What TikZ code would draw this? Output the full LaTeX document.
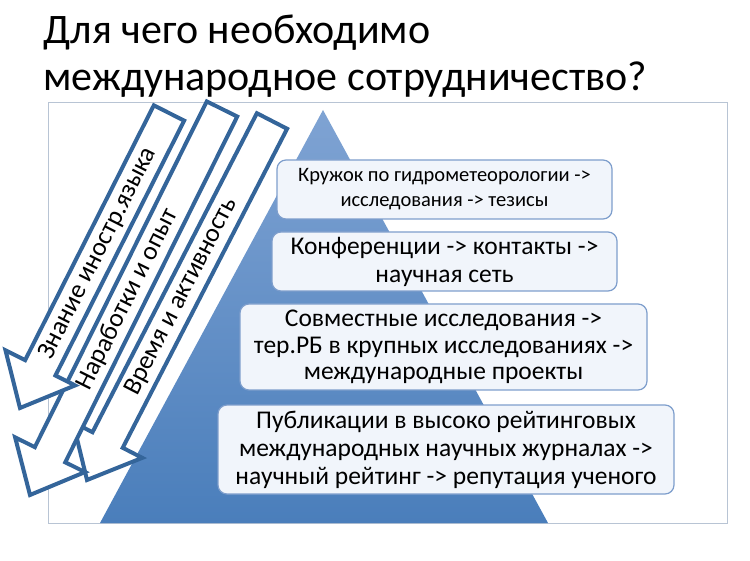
\documentclass[tikz,border=0pt]{standalone}
\usepackage{fontspec}
\setmainfont{Carlito}
\usetikzlibrary{calc}
\definecolor{pyrblue}{HTML}{4A7EBB}
\definecolor{pyrtop}{HTML}{7FA3D3}
\definecolor{boxline}{HTML}{7E9ECC}
\definecolor{boxfill}{HTML}{F1F5FB}
\definecolor{arrline}{HTML}{34659A}
\definecolor{frameline}{HTML}{B8C4D4}
\tikzset{
  step box/.style={draw=boxline, line width=1.2pt, fill=boxfill, rounded corners=9pt,
    align=center, inner sep=0pt, font=\fontsize{25.5}{28}\selectfont},
  arrow outline/.style={draw=arrline, line width=4pt, fill=white, line join=miter},
  arrow label/.style={sloped, font=\fontsize{26}{30}\selectfont}
}
% hollow block arrow from tail centre #1 to tip #2
\newcommand\hollowarrow[3]{%
  \coordinate (N) at ($(#2)!45pt!(#1)$);
  \draw[arrow outline] ($(#1)!17pt!90:(#2)$) -- ($(N)!17pt!-90:(#1)$)
    -- ($(N)!39pt!-90:(#1)$) -- (#2) -- ($(N)!39pt!90:(#1)$)
    -- ($(N)!17pt!90:(#1)$) -- ($(#1)!17pt!-90:(#2)$) -- cycle;
  \path (#1) -- (N) node[arrow label, pos=0.55] {#3};
}
\begin{document}
\begin{tikzpicture}[x=1pt, y=-1pt]
  \useasboundingbox (0,0) rectangle (750,561);
  % title
  \node[anchor=west, font=\fontsize{42}{46}\selectfont] (title1) at (40,33) {Для чего необходимо};
  \node[anchor=west, font=\fontsize{42}{46}\selectfont] (title2) at (40,80) {международное сотрудничество?};

  % frame and pyramid
  \draw[frameline, line width=1pt] (48,103) rectangle (727,523);
  \shade[top color=pyrtop, bottom color=pyrblue] (323,110) -- (548,523) -- (100,523) -- cycle;

  % steps
  \node[step box, minimum width=335pt, minimum height=59pt, font=\fontsize{20.5}{25}\selectfont]
    (step1) at (444.5,189.5) {Кружок по гидрометеорологии ->\\исследования -> тезисы};
  \node[step box, minimum width=345pt, minimum height=59pt]
    (step2) at (444.5,261.5) {Конференции -> контакты ->\\научная сеть};
  \node[step box, minimum width=407pt, minimum height=86pt, font=\fontsize{25.5}{26.5}\selectfont]
    (step3) at (443.5,347) {Совместные исследования ->\\тер.РБ в крупных исследованиях ->\\международные проекты};
  \node[step box, minimum width=456pt, minimum height=89pt]
    (step4) at (446,449.5) {Публикации в высоко рейтинговых\\международных научных журналах ->\\научный рейтинг -> репутация ученого};

  % arrows
  \coordinate (tail1) at (169,113);
  \coordinate (tip1) at (20,408);
  \coordinate (tail2) at (222,109);
  \coordinate (tip2) at (30,495);
  \coordinate (tail3) at (272,121);
  \coordinate (tip3) at (87,480);
  \hollowarrow{tail3}{tip3}{Время и активность}
  \hollowarrow{tail2}{tip2}{Наработки и опыт}
  \hollowarrow{tail1}{tip1}{Знание иностр.языка}
\end{tikzpicture}
\end{document}
